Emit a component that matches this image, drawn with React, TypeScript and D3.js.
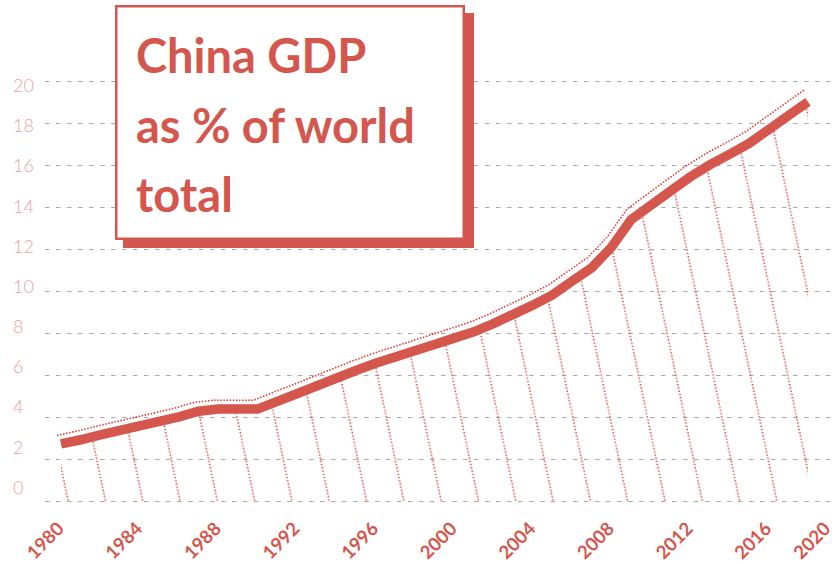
import React from "react";
import * as d3 from "d3";

const years = [
  1980, 1981, 1982, 1983, 1984, 1985, 1986, 1987, 1988, 1989,
  1990, 1991, 1992, 1993, 1994, 1995, 1996, 1997, 1998, 1999,
  2000, 2001, 2002, 2003, 2004, 2005, 2006, 2007, 2008, 2009,
  2010, 2011, 2012, 2013, 2014, 2015, 2016, 2017, 2018,
];
const gdpShare = [
  2.74, 2.94, 3.17, 3.39, 3.6, 3.81, 4.03, 4.3, 4.4, 4.4,
  4.4, 4.77, 5.13, 5.5, 5.87, 6.24, 6.58, 6.88, 7.18, 7.48,
  7.78, 8.08, 8.47, 8.91, 9.35, 9.84, 10.49, 11.13, 12.11, 13.42,
  14.1, 14.78, 15.45, 16.03, 16.53, 17.05, 17.71, 18.37, 19.03,
];
const yTicks = [0, 2, 4, 6, 8, 10, 12, 14, 16, 18, 20];
const xTicks = [1980, 1984, 1988, 1992, 1996, 2000, 2004, 2008, 2012, 2016, 2020];
const titleLines = ["China GDP", "as % of world", "total"];

const RED = "#d4564d";
const DOT_RED = "#da3b33";
const LABEL_PINK = "#eda29e";
const FONT = "'Source Sans Pro', Lato, 'Noto Sans', sans-serif";

export default function App() {
  const W = 832;
  const H = 564;
  const data = years.map((y, i) => ({ year: y, v: gdpShare[i] }));

  const x = d3.scaleLinear().domain([1980, 2018]).range([61, 808]);
  const y = d3.scaleLinear().domain([0, 20]).range([501.5, 81.5]);
  const yLabel = d3.scaleLinear().domain([0, 20]).range([486.7, 85]);

  const line = d3
    .line<{ year: number; v: number }>()
    .x((d) => x(d.year))
    .y((d) => y(d.v));
  const shadowLine = d3
    .line<{ year: number; v: number }>()
    .x((d) => x(d.year) - 4)
    .y((d) => y(d.v) - 8 - 0.2 * d.v);
  const area = d3
    .area<{ year: number; v: number }>()
    .x((d) => x(d.year))
    .y0(y(0))
    .y1((d) => y(d.v));

  const tickX = (t: number) => x(Math.min(t, 2019)) + 4;

  return (
    <svg
      width={W}
      height={H}
      style={{ position: "absolute", left: 0, top: 0, background: "#fff" }}
    >
      <defs>
        <pattern
          id="hachure"
          patternUnits="userSpaceOnUse"
          x={-18.65}
          y={0}
          width={37.3}
          height={600}
          patternTransform="skewX(11.86)"
        >
          <line
            x1={18.95}
            x2={18.95}
            y1={0}
            y2={600}
            stroke={DOT_RED}
            strokeWidth={1.5}
            strokeDasharray="1.4,1.8"
          />
        </pattern>
      </defs>

      {/* grid */}
      {yTicks.map((t) => (
        <line
          key={"g" + t}
          x1={45}
          x2={W}
          y1={y(t)}
          y2={y(t)}
          stroke="#aaa"
          strokeWidth={1.2}
          strokeDasharray="4.5,6.5"
        />
      ))}

      {/* hachure fill */}
      <path d={area(data) || ""} fill="url(#hachure)" stroke="none" />

      {/* offset dotted outline */}
      <path
        d={shadowLine(data) || ""}
        fill="none"
        stroke={DOT_RED}
        strokeWidth={1.6}
        strokeDasharray="1.5,1.6"
      />

      {/* main line */}
      <path
        d={line(data) || ""}
        fill="none"
        stroke={RED}
        strokeWidth={9.5}
        strokeLinejoin="miter"
        strokeLinecap="butt"
      />

      {/* y labels */}
      {yTicks.map((t) => (
        <text
          key={"yl" + t}
          x={13}
          y={yLabel(t)}
          dominantBaseline="central"
          fill={LABEL_PINK}
          fontFamily={FONT}
          fontWeight={300}
          fontSize={18}
        >
          {t}
        </text>
      ))}

      {/* x labels */}
      {xTicks.map((t) => (
        <text
          key={"xl" + t}
          transform={`translate(${tickX(t)},530) rotate(-45)`}
          textAnchor="end"
          fill={RED}
          fontFamily={FONT}
          fontWeight={700}
          fontSize={18.5}
        >
          {t}
        </text>
      ))}

      {/* title box */}
      <rect x={123} y={13} width={351} height={235} fill={RED} />
      <rect
        x={116.25}
        y={6.25}
        width={347.5}
        height={232.5}
        fill="#fff"
        stroke={RED}
        strokeWidth={2.5}
      />
      {titleLines.map((s, i) => (
        <text
          key={"t" + i}
          x={136}
          y={73 + i * 69.5}
          fill={RED}
          fontFamily={FONT}
          fontWeight={700}
          fontSize={47}
        >
          {s}
        </text>
      ))}
    </svg>
  );
}
